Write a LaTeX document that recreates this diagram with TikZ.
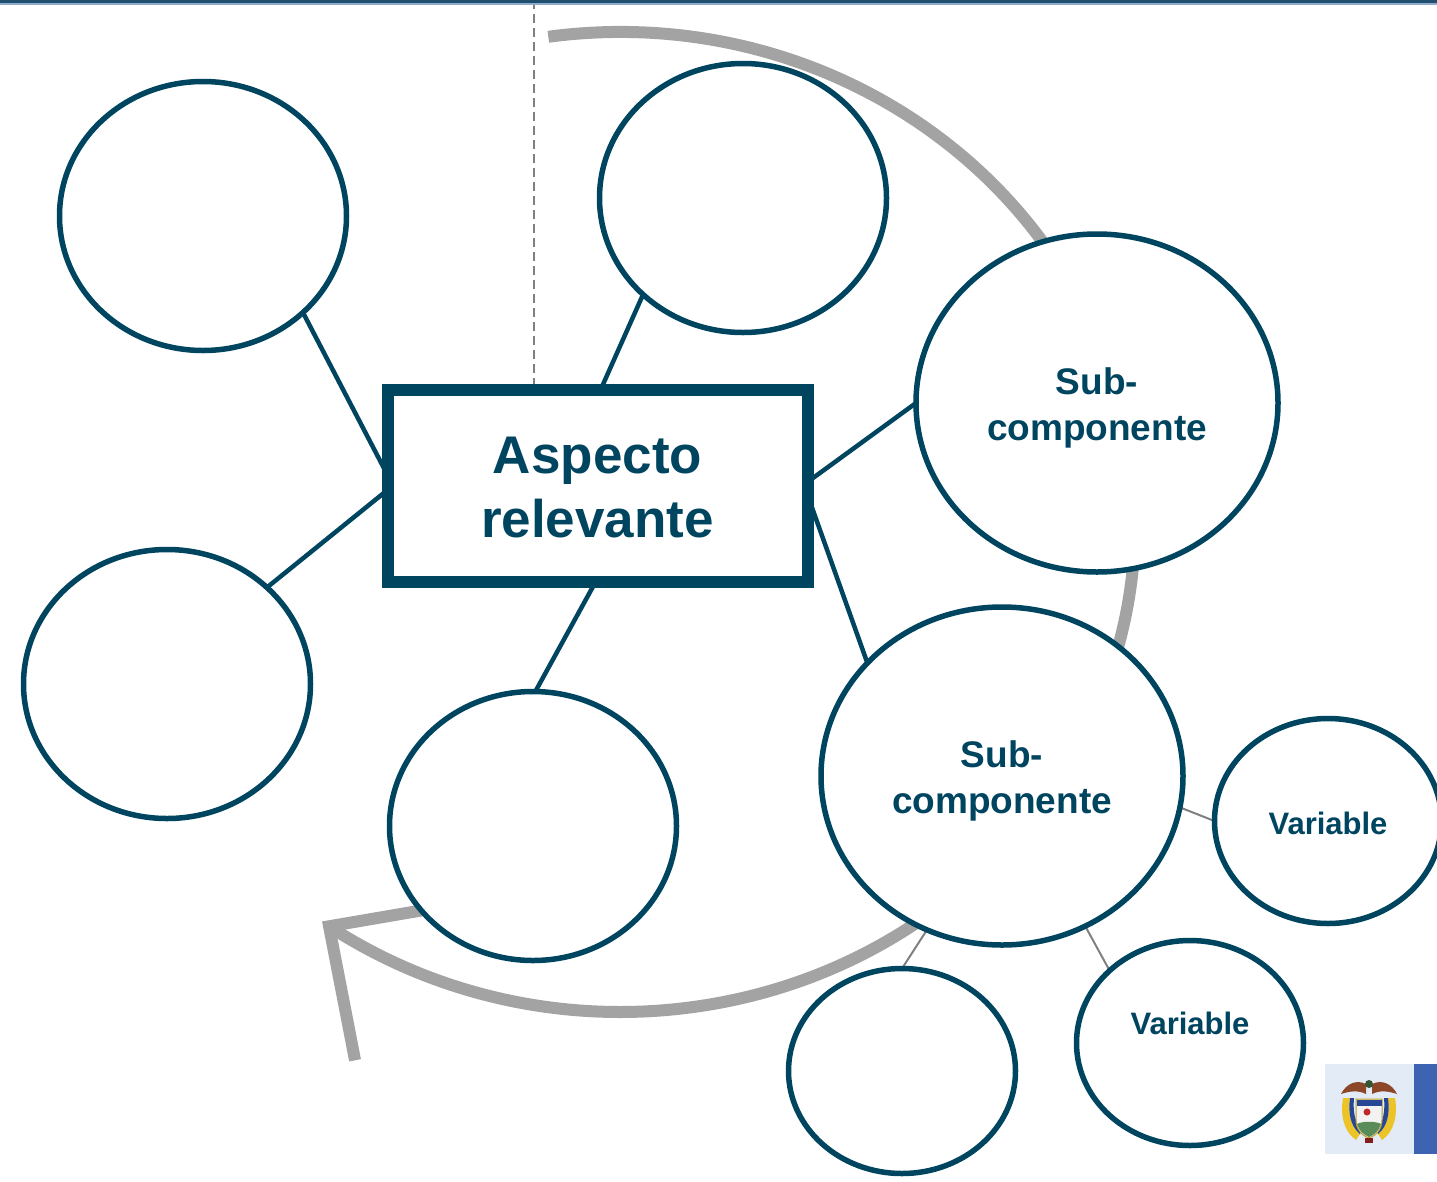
\documentclass[tikz,border=0pt]{standalone}
\usepackage{fontspec}
\setmainfont{Liberation Sans}
\usetikzlibrary{shapes.geometric,calc,backgrounds}
\definecolor{dk}{RGB}{0,69,96}
\definecolor{arcgray}{RGB}{163,163,163}
\definecolor{thingray}{RGB}{128,128,128}
\definecolor{banddk}{RGB}{31,78,110}
\definecolor{bandlt}{RGB}{143,170,203}
\definecolor{logobg}{RGB}{227,235,246}
\definecolor{logobar}{RGB}{63,99,179}
\definecolor{eaglebrown}{RGB}{140,70,40}
\definecolor{flagyellow}{RGB}{236,196,40}
\definecolor{flagblue}{RGB}{40,70,150}
\definecolor{flagred}{RGB}{190,40,40}
\definecolor{shieldgreen}{RGB}{90,140,90}
\begin{document}
\begin{tikzpicture}[x=1pt,y=-1pt,
  bigc/.style={ellipse, draw=dk, line width=5.5pt, fill=white, outer sep=0pt, inner sep=0pt,
    minimum width=362pt, minimum height=338pt, align=center, text=dk,
    font=\fontsize{37}{46}\selectfont\bfseries},
  midc/.style={ellipse, draw=dk, line width=5.5pt, fill=white, outer sep=0pt, inner sep=0pt,
    minimum width=287pt, minimum height=269pt},
  smallc/.style={ellipse, draw=dk, line width=5.5pt, fill=white, outer sep=0pt, inner sep=0pt,
    minimum width=227pt, minimum height=205pt, text=dk,
    font=\fontsize{31}{37}\selectfont\bfseries},
  mainbox/.style={rectangle, draw=dk, line width=12pt, fill=white, outer sep=0pt,
    minimum width=420pt, minimum height=192pt, align=center, text=dk,
    font=\fontsize{53}{64}\selectfont\bfseries},
  conn/.style={draw=dk, line width=4.5pt},
  thinconn/.style={draw=thingray, line width=2pt},
  bigarc/.style={draw=arcgray, line width=12pt},
  dashline/.style={draw=thingray, line width=2.5pt, dash pattern=on 9pt off 5pt},
  lbl/.style={text=dk, font=\fontsize{31}{37}\selectfont\bfseries}
]
\useasboundingbox (0,0) rectangle (1437,1181);

% nodes
\node[mainbox] (R) at (597.5,486) {};
\node[text=dk, align=center, font=\fontsize{53}{64}\selectfont\bfseries] (RT) at ([yshift=-2pt]R.center) {Aspecto\\relevante};
\node[bigc] (C3) at (1097,403) {};
\node[midc] (C1) at (203,216) {};
\node[midc] (C2) at (743,198) {};
\node[midc] (C4) at (167,684) {};
\node[midc] (C5) at (533,826) {};
\node[bigc] (C6) at (1002,776) {};
\node[text=dk, align=center, font=\fontsize{37}{46}\selectfont\bfseries] (T3) at ([yshift=-5pt]C3.center) {Sub-\\componente};
\node[text=dk, align=center, font=\fontsize{37}{46}\selectfont\bfseries] (T6) at ([yshift=-5pt]C6.center) {Sub-\\componente};
\node[smallc] (C7) at (1328,821) {};
\node[lbl] (V1) at ([yshift=-2pt]C7.center) {Variable};
\node[smallc] (C8) at (1190,1043) {};
\node[lbl] (V2) at ([yshift=20pt]C8.center) {Variable};
\node[smallc] (C9) at (902,1071) {};

% background: arc, dashed line, connectors
\begin{scope}[on background layer]
  \coordinate (ac) at (620,522);
  \draw[bigarc] (ac) ++(-98:515 and 490) arc[start angle=-98, end angle=124.4, x radius=515, y radius=490];
  \coordinate (tip) at ($(ac)+(124.4:515 and 490)$);
  \draw[bigarc, line join=miter] ($(tip)+(134,-23)$) -- (tip) -- ($(tip)+(26,134)$);

  \coordinate (dtop) at (534,0);
  \draw[dashline] (dtop) -- (dtop |- R.north);

  \draw[conn] ([yshift=11pt]R.west) -- (C1.-44);
  \draw[conn] ([yshift=-4pt]R.west) -- (C4.44);
  \draw[conn] ([xshift=3pt]R.north) -- (C2.-136);
  \draw[conn] ([xshift=-2pt]R.south) -- (C5.89);
  \draw[conn] ([yshift=4pt]R.east) -- (C3.180);
  \draw[conn] ([yshift=-9pt]R.east) -- (C6.140);

  \draw[thinconn] (C6.-10) -- (C7.180);
  \draw[thinconn] (C6.-61) -- (C8.138);
  \draw[thinconn] (C6.-116) -- (C9.90);
\end{scope}

% top band
\fill[banddk] (0,0) rectangle (1437,3);
\fill[bandlt] (0,3) rectangle (1437,4.5);

% logo
\fill[logobg] (1325,1064) rectangle (1414,1154);
\fill[logobar] (1414,1064) rectangle (1437,1154);
% flags
\fill[flagyellow] (1343,1098) .. controls (1340,1115) and (1344,1132) .. (1356,1140) -- (1360,1134) .. controls (1350,1126) and (1348,1112) .. (1350,1098) -- cycle;
\fill[flagblue] (1350,1098) .. controls (1348,1112) and (1350,1126) .. (1360,1134) -- (1362,1130) .. controls (1354,1122) and (1353,1110) .. (1354,1098) -- cycle;
\fill[flagyellow] (1395,1098) .. controls (1398,1115) and (1394,1132) .. (1382,1140) -- (1378,1134) .. controls (1388,1126) and (1390,1112) .. (1388,1098) -- cycle;
\fill[flagblue] (1388,1098) .. controls (1390,1112) and (1388,1126) .. (1378,1134) -- (1376,1130) .. controls (1384,1122) and (1385,1110) .. (1384,1098) -- cycle;
% wings
\fill[eaglebrown] (1341,1094) .. controls (1346,1084) and (1356,1079) .. (1366,1084) -- (1366,1094) .. controls (1358,1090) and (1350,1091) .. (1341,1094) -- cycle;
\fill[eaglebrown] (1397,1094) .. controls (1392,1084) and (1382,1079) .. (1372,1084) -- (1372,1094) .. controls (1380,1090) and (1388,1091) .. (1397,1094) -- cycle;
\fill[shieldgreen!60!black] (1369,1084) circle[radius=4];
% shield
\filldraw[draw=flagyellow!80!black, fill=white!90!gray, line width=1pt] (1356,1099) -- (1382,1099) -- (1382,1120) .. controls (1382,1130) and (1375,1136) .. (1369,1138) .. controls (1363,1136) and (1356,1130) .. (1356,1120) -- cycle;
\fill[flagblue] (1356.5,1099.5) rectangle (1381.5,1106);
\fill[flagred] (1367,1112) circle[radius=3.5];
\fill[shieldgreen] (1357,1124) .. controls (1362,1121) and (1376,1121) .. (1381,1124) .. controls (1379,1131) and (1374,1135) .. (1369,1137) .. controls (1364,1135) and (1359,1131) .. (1357,1124) -- cycle;
\fill[flagred!70!black] (1365,1138) rectangle (1373,1143);
\end{tikzpicture}
\end{document}
